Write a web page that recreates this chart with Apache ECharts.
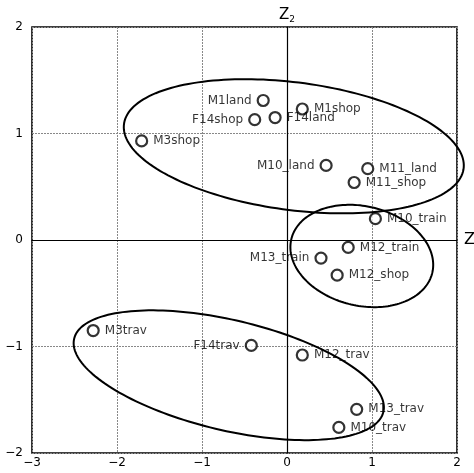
<!DOCTYPE html>
<html><head><meta charset="utf-8">
<script src="https://cdn.jsdelivr.net/npm/echarts@6/dist/echarts.min.js"></script>
<style>html,body{margin:0;padding:0;background:#fff}#c{width:474px;height:473px}</style>
</head><body><div id="c"></div>
<script>
const names = ['M1land','M1shop','F14shop','F14land','M3shop','M10_land','M11_land','M11_shop','M10_train','M12_train','M13_train','M12_shop','M3trav','F14trav','M12_trav','M13_trav','M10_trav'];
const z1 = [-0.28, 0.18, -0.38, -0.14, -1.71, 0.46, 0.95, 0.79, 1.04, 0.72, 0.40, 0.59, -2.28, -0.42, 0.18, 0.82, 0.61];
const z2 = [1.31, 1.23, 1.13, 1.15, 0.93, 0.70, 0.67, 0.54, 0.20, -0.07, -0.17, -0.33, -0.85, -0.99, -1.08, -1.59, -1.76];
const leftLabeled = ['M1land','F14shop','M10_land','M13_train','F14trav'];
// ellipses: center z1, center z2, semi-axis a, semi-axis b, rotation (deg)
const ellCx = [0.08, 0.88, -0.685];
const ellCy = [0.88, -0.15, -1.27];
const ellA = [2.009, 0.846, 1.852];
const ellB = [0.601, 0.470, 0.522];
const ellRot = [-5.65, -8.2, -10.2];
const xTicks = [-3, -2, -1, 0, 1, 2];
const yTicks = [-2, -1, 0, 1, 2];

const fmt = v => String(v).replace('-', '\u2212');
const chart = echarts.init(document.getElementById('c'));
const pts = names.map((n, i) => ({
  value: [z1[i], z2[i]], name: n,
  label: { position: leftLabeled.includes(n) ? 'left' : 'right' }
}));
const ells = ellCx.map((c, i) => [c, ellCy[i], ellA[i], ellB[i], ellRot[i]]);
const FF = 'DejaVu Sans, Liberation Sans, sans-serif';
const baseFont = { fontFamily: FF, fontSize: 12, color: '#000' };
chart.setOption({
  animation: false,
  grid: { left: 32, right: 17, top: 27, bottom: 20, outerBoundsMode: 'none', containLabel: false, show: true, borderColor: '#000', borderWidth: 1.6, backgroundColor: 'transparent' },
  xAxis: [{
    type: 'value', min: xTicks[0], max: xTicks[xTicks.length - 1], interval: 1,
    axisLine: { show: false, onZero: false }, axisTick: { show: false },
    axisLabel: Object.assign({ formatter: fmt, margin: 4 }, baseFont),
    splitLine: { show: true, lineStyle: { color: '#888', type: [2, 1], width: 1 } }
  }, {
    type: 'value', min: xTicks[0], max: xTicks[xTicks.length - 1], interval: 1,
    position: 'bottom',
    axisLine: { show: true, onZero: true, onZeroAxisIndex: 1, lineStyle: { color: '#000', width: 1.2 } },
    axisTick: { show: false }, axisLabel: { show: false }, splitLine: { show: false },
    name: 'Z\u2081', nameLocation: 'end', nameGap: 7,
    nameTextStyle: { fontFamily: FF, fontSize: 16, color: '#000', verticalAlign: 'middle' }
  }],
  yAxis: [{
    type: 'value', min: yTicks[0], max: yTicks[yTicks.length - 1], interval: 1,
    axisLine: { show: false, onZero: false }, axisTick: { show: false },
    axisLabel: Object.assign({ formatter: fmt, margin: 9 }, baseFont),
    splitLine: { show: true, lineStyle: { color: '#888', type: [2, 1], width: 1 } }
  }, {
    type: 'value', min: yTicks[0], max: yTicks[yTicks.length - 1], interval: 1,
    position: 'left',
    axisLine: { show: true, onZero: true, onZeroAxisIndex: 1, lineStyle: { color: '#000', width: 1.2 } },
    axisTick: { show: false }, axisLabel: { show: false }, splitLine: { show: false },
    name: '{a|Z}{b|2}', nameLocation: 'end', nameGap: 3,
    nameTextStyle: { rich: { a: { fontFamily: FF, fontSize: 15, color: '#000' }, b: { fontFamily: FF, fontSize: 9, color: '#000', padding: [8, 0, 0, 0] } } }
  }],
  series: [{
    type: 'custom', xAxisIndex: 0, yAxisIndex: 0, data: ells, silent: true,
    encode: { x: 0, y: 1 },
    renderItem: (params, api) => {
      const cx = api.value(0), cy = api.value(1), a = api.value(2), b = api.value(3), r = api.value(4) * Math.PI / 180;
      const points = [];
      for (let k = 0; k < 180; k++) {
        const t = k / 180 * Math.PI * 2;
        const x = cx + a * Math.cos(r) * Math.cos(t) - b * Math.sin(r) * Math.sin(t);
        const y = cy + a * Math.sin(r) * Math.cos(t) + b * Math.cos(r) * Math.sin(t);
        points.push(api.coord([x, y]));
      }
      return { type: 'polygon', shape: { points }, style: { fill: 'none', stroke: '#000', lineWidth: 2 } };
    },
    z: 3
  }, {
    type: 'scatter', xAxisIndex: 0, yAxisIndex: 0, data: pts,
    symbol: 'circle', symbolSize: 11,
    itemStyle: { color: '#fff', borderColor: '#000', borderWidth: 2.2 },
    label: Object.assign({ show: true, formatter: p => p.name, distance: 5 }, baseFont),
    z: 4
  }]
});
</script></body></html>
